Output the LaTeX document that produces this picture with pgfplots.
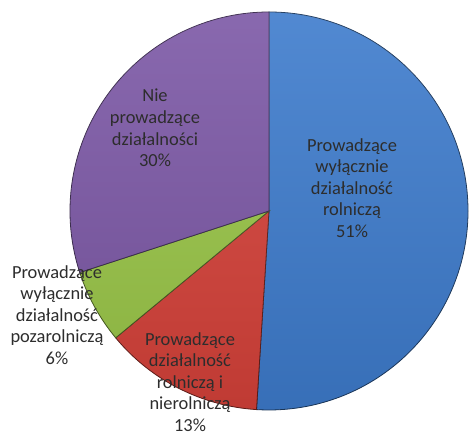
\documentclass[border=0pt]{standalone}
\usepackage{pgfplots}
\pgfplotsset{compat=1.18}
\usepackage{pgfplotstable}
\usepackage{fontspec}
\setmainfont{Carlito}

\definecolor{pieblue}{RGB}{62,124,205}
\definecolor{piered}{RGB}{214,66,58}
\definecolor{piegreen}{RGB}{154,198,72}
\definecolor{piepurple}{RGB}{124,88,166}
\definecolor{labelgray}{RGB}{45,45,45}

\tikzset{labelnode/.style={align=center, text=labelgray,
    font=\fontsize{18.5}{21.7}\selectfont}}

% shares in percent, clockwise from 12 o'clock
\pgfplotstableread{
value color
51 pieblue
13 piered
6  piegreen
30 piepurple
}\piedata

\def\cx{269}
\def\cy{221}
\def\rad{199}

\begin{document}
\begin{tikzpicture}
\begin{axis}[
  hide axis,
  scale only axis,
  width=469bp, height=432bp,
  xmin=0, xmax=469, ymin=0, ymax=432,
  clip=false,
]
% keep the whole canvas as the picture's bounding box
\path (axis cs:0,0) rectangle (axis cs:469,432);
\def\cum{0}
\pgfplotsforeachungrouped \i in {0,...,3}{%
  \pgfplotstablegetelem{\i}{value}\of\piedata \let\val=\pgfplotsretval
  \pgfplotstablegetelem{\i}{color}\of\piedata \let\slicecol=\pgfplotsretval
  \pgfmathsetmacro\angA{90-3.6*\cum}
  \pgfmathsetmacro\angB{90-3.6*(\cum+\val)}
  \pgfmathsetmacro\px{\cx+\rad*cos(\angA)}
  \pgfmathsetmacro\py{\cy+\rad*sin(\angA)}
  \edef\tmp{\noexpand\fill[\slicecol, draw=\slicecol!45!black, line width=0.8pt]
    (axis cs:\cx,\cy) -- (axis cs:\px,\py)
    arc[start angle=\angA, end angle=\angB, radius=\rad] -- cycle;}
  \tmp
  \pgfmathsetmacro\cum{\cum+\val}
}
% soft light-to-shadow gloss over the whole pie
\shade[top color=white, bottom color=black, fill opacity=0.10]
  (axis cs:\cx,\cy) circle[radius=\rad];
\node[labelnode] at (axis cs:352,244) {Prowadzące\\wyłącznie\\działalność\\rolniczą\\51\%};
\node[labelnode] at (axis cs:155,304) {Nie\\prowadzące\\działalności\\30\%};
\node[labelnode] at (axis cs:57,117) {Prowadzące\\wyłącznie\\działalność\\pozarolniczą\\6\%};
\node[labelnode] at (axis cs:190,50) {Prowadzące\\działalność\\rolniczą i\\nierolniczą\\13\%};
\end{axis}
\end{tikzpicture}
\end{document}
